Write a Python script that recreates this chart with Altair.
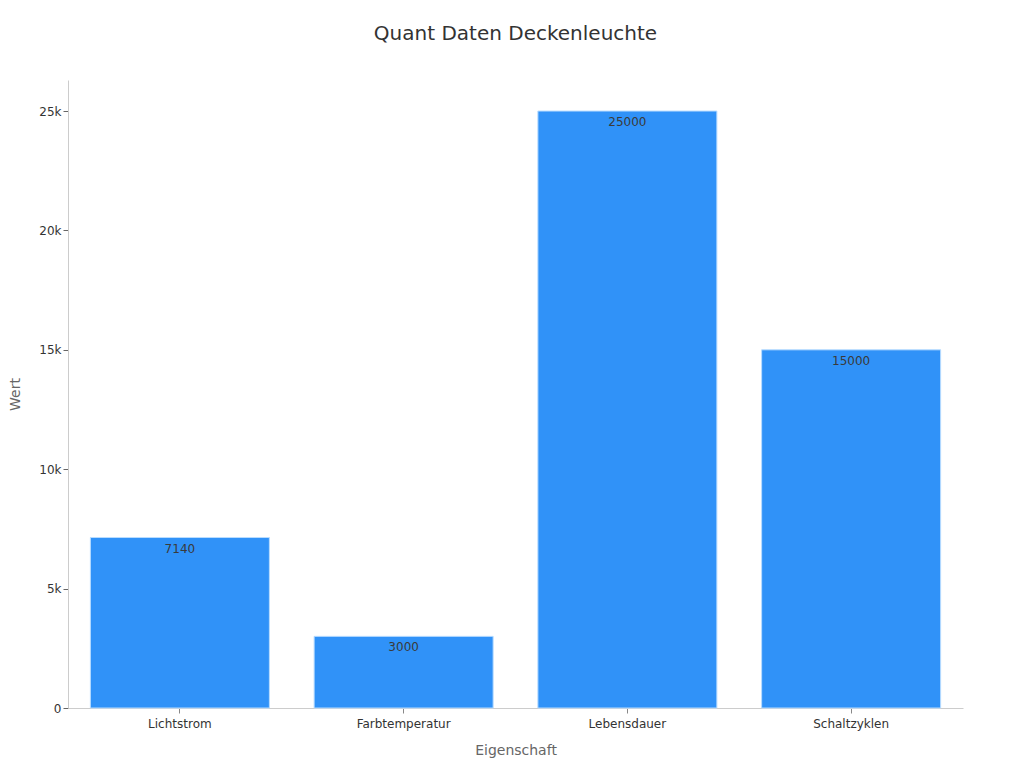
import altair as alt
import pandas as pd

categories = ["Lichtstrom", "Farbtemperatur", "Lebensdauer", "Schaltzyklen"]
values = [7140, 3000, 25000, 15000]

df = pd.DataFrame({"Eigenschaft": categories, "Wert": values})

FONT = "DejaVu Sans"

base = alt.Chart(df).encode(
    x=alt.X("Eigenschaft:N", sort=categories,
            scale=alt.Scale(paddingInner=0.2, paddingOuter=0.1),
            axis=alt.Axis(title="Eigenschaft", labelAngle=0, labelFontSize=12,
                          labelColor="#333333", titleFontSize=14, titleColor="#666666",
                          titleFontWeight="normal", titlePadding=14, labelPadding=5,
                          domainColor="#cccccc", tickColor="#888888",
                          labelFont=FONT, titleFont=FONT)),
    y=alt.Y("Wert:Q", scale=alt.Scale(domain=[0, 26300], nice=False),
            axis=alt.Axis(title="Wert", values=[0, 5000, 10000, 15000, 20000, 25000],
                          labelExpr="datum.value == 0 ? '0' : format(datum.value / 1000, 'd') + 'k'",
                          grid=False, labelFontSize=12, labelColor="#333333",
                          titleFontSize=14, titleColor="#666666", titleFontWeight="normal",
                          titlePadding=16, domainColor="#cccccc", tickColor="#666666",
                          labelFont=FONT, titleFont=FONT)),
)

bars = base.mark_bar(color="#3092f8", stroke="#b8dcff", strokeWidth=1)
labels = base.mark_text(baseline="top", dy=6, fontSize=12, color="#3a3a3a", font=FONT).encode(
    text=alt.Text("Wert:Q")
)

chart = (bars + labels).properties(
    width=895, height=628,
    title=alt.TitleParams("Quant Daten Deckenleuchte", fontSize=20, font=FONT,
                          fontWeight="normal", color="#333333", offset=36, anchor="middle"),
    autosize=alt.AutoSizeParams(type="none"),
    padding={"left": 60, "top": 72, "right": 53, "bottom": 52},
).configure_view(stroke=None)

chart.save("out.html", embed_options={"renderer": "svg", "actions": False})
